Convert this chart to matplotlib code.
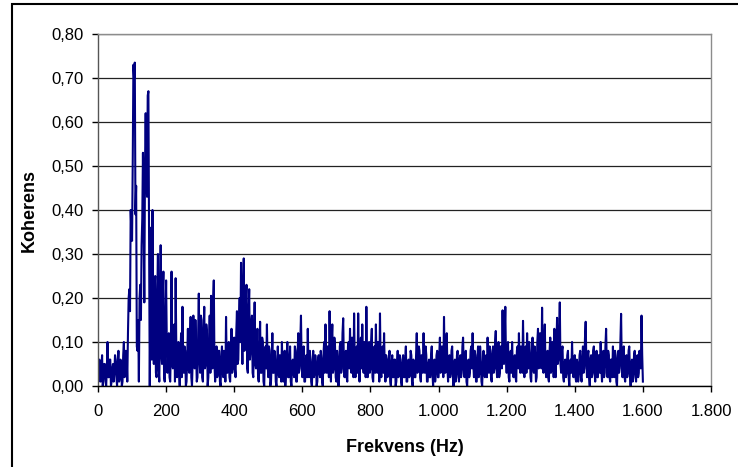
import numpy as np
import matplotlib
matplotlib.use("Agg")
import matplotlib.pyplot as plt
from matplotlib.ticker import FuncFormatter
from matplotlib.patches import Rectangle

plt.rcParams['font.family'] = ['Liberation Sans', 'DejaVu Sans']

# Coherence spectrum at 2 Hz steps (0 .. 1600 Hz)
step_hz = 2
coh = [
    # 0 - 98 Hz
    0.03, 0.01, 0.06, 0.02, 0.01, 0.04, 0.07, 0.00, 0.02, 0.05,
    0.05, 0.01, 0.00, 0.04, 0.10, 0.02, 0.02, 0.06, 0.06, 0.00,
    0.01, 0.04, 0.05, 0.01, 0.03, 0.07, 0.06, 0.02, 0.00, 0.05,
    0.08, 0.01, 0.02, 0.06, 0.05, 0.00, 0.01, 0.07, 0.10, 0.02,
    0.03, 0.08, 0.07, 0.01, 0.12, 0.20, 0.22, 0.17, 0.40, 0.35,
    # 100 - 198 Hz
    0.33, 0.51, 0.73, 0.70, 0.735, 0.39, 0.455, 0.09, 0.08, 0.15,
    0.01, 0.20, 0.23, 0.15, 0.32, 0.38, 0.53, 0.36, 0.19, 0.50,
    0.62, 0.48, 0.43, 0.66, 0.67, 0.35, 0.00, 0.20, 0.36, 0.06,
    0.40, 0.12, 0.05, 0.22, 0.25, 0.03, 0.02, 0.20, 0.30, 0.04,
    0.01, 0.16, 0.32, 0.07, 0.05, 0.20, 0.26, 0.02, 0.01, 0.14,
    # 200 - 298 Hz
    0.24, 0.10, 0.03, 0.07, 0.12, 0.02, 0.01, 0.09, 0.26, 0.05,
    0.04, 0.13, 0.14, 0.01, 0.245, 0.08, 0.02, 0.06, 0.10, 0.03,
    0.00, 0.07, 0.12, 0.02, 0.18, 0.06, 0.03, 0.09, 0.08, 0.00,
    0.01, 0.07, 0.13, 0.04, 0.03, 0.10, 0.157, 0.02, 0.00, 0.06,
    0.16, 0.05, 0.04, 0.15, 0.09, 0.01, 0.02, 0.11, 0.21, 0.06,
    # 300 - 398 Hz
    0.03, 0.16, 0.15, 0.02, 0.01, 0.12, 0.18, 0.04, 0.05, 0.14,
    0.12, 0.00, 0.02, 0.09, 0.16, 0.03, 0.205, 0.07, 0.04, 0.19,
    0.24, 0.05, 0.01, 0.06, 0.09, 0.02, 0.03, 0.08, 0.08, 0.01,
    0.00, 0.06, 0.09, 0.03, 0.02, 0.08, 0.07, 0.01, 0.157, 0.04,
    0.03, 0.09, 0.10, 0.02, 0.01, 0.07, 0.13, 0.03, 0.04, 0.10,
    # 400 - 498 Hz
    0.11, 0.04, 0.02, 0.12, 0.17, 0.05, 0.06, 0.15, 0.20, 0.10,
    0.28, 0.14, 0.05, 0.21, 0.29, 0.08, 0.12, 0.18, 0.23, 0.04,
    0.03, 0.17, 0.22, 0.06, 0.08, 0.14, 0.16, 0.03, 0.02, 0.12,
    0.19, 0.05, 0.04, 0.09, 0.13, 0.02, 0.01, 0.08, 0.146, 0.03,
    0.03, 0.11, 0.10, 0.01, 0.00, 0.07, 0.09, 0.04, 0.14, 0.05,
    # 500 - 598 Hz
    0.02, 0.09, 0.08, 0.00, 0.01, 0.06, 0.12, 0.03, 0.03, 0.08,
    0.07, 0.01, 0.00, 0.05, 0.09, 0.03, 0.02, 0.07, 0.06, 0.01,
    0.10, 0.04, 0.01, 0.06, 0.08, 0.00, 0.03, 0.07, 0.10, 0.02,
    0.02, 0.06, 0.09, 0.01, 0.00, 0.05, 0.06, 0.03, 0.02, 0.09,
    0.08, 0.01, 0.01, 0.07, 0.12, 0.03, 0.04, 0.10, 0.16, 0.05,
    # 600 - 698 Hz
    0.02, 0.07, 0.09, 0.01, 0.01, 0.06, 0.07, 0.02, 0.13, 0.04,
    0.02, 0.08, 0.06, 0.01, 0.00, 0.05, 0.08, 0.02, 0.03, 0.07,
    0.05, 0.00, 0.01, 0.06, 0.07, 0.03, 0.02, 0.08, 0.06, 0.01,
    0.00, 0.07, 0.10, 0.03, 0.14, 0.05, 0.03, 0.09, 0.08, 0.02,
    0.17, 0.06, 0.01, 0.10, 0.14, 0.03, 0.04, 0.11, 0.09, 0.02,
    # 700 - 798 Hz
    0.01, 0.08, 0.06, 0.00, 0.02, 0.09, 0.10, 0.03, 0.04, 0.12,
    0.154, 0.05, 0.02, 0.07, 0.08, 0.02, 0.01, 0.09, 0.10, 0.04,
    0.13, 0.06, 0.03, 0.11, 0.07, 0.02, 0.165, 0.05, 0.02, 0.08,
    0.09, 0.03, 0.165, 0.06, 0.01, 0.07, 0.11, 0.04, 0.14, 0.05,
    0.03, 0.10, 0.08, 0.02, 0.18, 0.06, 0.02, 0.09, 0.10, 0.03,
    # 800 - 898 Hz
    0.04, 0.10, 0.13, 0.02, 0.01, 0.07, 0.09, 0.03, 0.14, 0.05,
    0.03, 0.10, 0.07, 0.01, 0.165, 0.04, 0.02, 0.08, 0.09, 0.03,
    0.12, 0.04, 0.01, 0.07, 0.06, 0.02, 0.03, 0.06, 0.08, 0.01,
    0.00, 0.05, 0.07, 0.02, 0.02, 0.06, 0.06, 0.00, 0.01, 0.05,
    0.08, 0.02, 0.03, 0.07, 0.05, 0.01, 0.00, 0.06, 0.07, 0.02,
    # 900 - 998 Hz
    0.02, 0.06, 0.09, 0.01, 0.01, 0.05, 0.06, 0.02, 0.03, 0.08,
    0.07, 0.01, 0.00, 0.06, 0.05, 0.02, 0.02, 0.07, 0.12, 0.03,
    0.04, 0.09, 0.08, 0.02, 0.01, 0.07, 0.06, 0.03, 0.12, 0.04,
    0.03, 0.09, 0.07, 0.01, 0.01, 0.05, 0.06, 0.02, 0.02, 0.07,
    0.09, 0.03, 0.00, 0.05, 0.06, 0.01, 0.03, 0.07, 0.08, 0.02,
    # 1000 - 1098 Hz
    0.02, 0.07, 0.11, 0.03, 0.04, 0.09, 0.08, 0.02, 0.157, 0.05,
    0.03, 0.08, 0.12, 0.04, 0.01, 0.06, 0.07, 0.02, 0.03, 0.08,
    0.09, 0.02, 0.00, 0.05, 0.06, 0.01, 0.02, 0.07, 0.08, 0.03,
    0.01, 0.06, 0.07, 0.02, 0.03, 0.09, 0.11, 0.04, 0.02, 0.06,
    0.08, 0.01, 0.00, 0.05, 0.06, 0.02, 0.03, 0.08, 0.09, 0.04,
    # 1100 - 1198 Hz
    0.12, 0.05, 0.02, 0.08, 0.07, 0.01, 0.01, 0.06, 0.09, 0.02,
    0.03, 0.09, 0.06, 0.01, 0.00, 0.05, 0.08, 0.03, 0.02, 0.06,
    0.07, 0.02, 0.11, 0.05, 0.03, 0.09, 0.08, 0.02, 0.01, 0.07,
    0.09, 0.03, 0.04, 0.10, 0.125, 0.04, 0.02, 0.08, 0.10, 0.02,
    0.03, 0.09, 0.08, 0.04, 0.172, 0.07, 0.05, 0.12, 0.18, 0.06,
    # 1200 - 1298 Hz
    0.03, 0.08, 0.10, 0.02, 0.01, 0.07, 0.08, 0.03, 0.10, 0.04,
    0.02, 0.06, 0.07, 0.02, 0.01, 0.08, 0.09, 0.04, 0.12, 0.05,
    0.03, 0.09, 0.08, 0.03, 0.148, 0.06, 0.02, 0.07, 0.09, 0.03,
    0.12, 0.05, 0.04, 0.10, 0.08, 0.02, 0.01, 0.07, 0.11, 0.04,
    0.03, 0.09, 0.07, 0.01, 0.02, 0.10, 0.13, 0.04, 0.05, 0.12,
    # 1300 - 1398 Hz
    0.10, 0.04, 0.178, 0.06, 0.03, 0.09, 0.14, 0.04, 0.02, 0.07,
    0.08, 0.02, 0.01, 0.08, 0.11, 0.03, 0.04, 0.10, 0.09, 0.02,
    0.13, 0.06, 0.02, 0.09, 0.155, 0.05, 0.06, 0.12, 0.19, 0.05,
    0.03, 0.08, 0.09, 0.02, 0.01, 0.05, 0.06, 0.02, 0.03, 0.07,
    0.08, 0.02, 0.00, 0.05, 0.06, 0.03, 0.10, 0.04, 0.02, 0.06,
    # 1400 - 1498 Hz
    0.07, 0.02, 0.01, 0.06, 0.05, 0.01, 0.03, 0.07, 0.08, 0.02,
    0.01, 0.06, 0.09, 0.03, 0.04, 0.11, 0.146, 0.05, 0.02, 0.07,
    0.08, 0.02, 0.00, 0.06, 0.07, 0.02, 0.03, 0.08, 0.09, 0.03,
    0.01, 0.06, 0.08, 0.02, 0.02, 0.07, 0.06, 0.03, 0.10, 0.04,
    0.01, 0.06, 0.08, 0.02, 0.03, 0.09, 0.13, 0.05, 0.02, 0.08,
    # 1500 - 1598 Hz
    0.07, 0.02, 0.01, 0.06, 0.06, 0.02, 0.09, 0.04, 0.02, 0.08,
    0.07, 0.01, 0.00, 0.06, 0.08, 0.03, 0.04, 0.10, 0.164, 0.05,
    0.02, 0.07, 0.09, 0.02, 0.01, 0.06, 0.07, 0.02, 0.03, 0.08,
    0.09, 0.03, 0.00, 0.05, 0.06, 0.01, 0.02, 0.07, 0.08, 0.03,
    0.01, 0.06, 0.07, 0.02, 0.03, 0.08, 0.06, 0.04, 0.16, 0.07,
    # 1600 Hz
    0.01,
]
freq = np.arange(len(coh)) * step_hz

x_ticks = [0, 200, 400, 600, 800, 1000, 1200, 1400, 1600, 1800]
y_ticks = [0.0, 0.1, 0.2, 0.3, 0.4, 0.5, 0.6, 0.7, 0.8]

W, H = 738, 467
fig = plt.figure(figsize=(W / 100, H / 100), dpi=100)
ax = fig.add_axes([98 / W, 1 - 386 / H, (711 - 98) / W, (386 - 34) / H])

ax.plot(freq, coh, color='#000080', linewidth=1.5)

ax.set_xlim(0, 1800)
ax.set_ylim(0, 0.8)
ax.set_xticks(x_ticks)
ax.set_yticks(y_ticks)
ax.xaxis.set_major_formatter(FuncFormatter(lambda v, p: f"{int(v):,}".replace(",", ".")))
ax.yaxis.set_major_formatter(FuncFormatter(lambda v, p: f"{v:.2f}".replace(".", ",")))

ax.yaxis.grid(True, color='#222222', linewidth=0.9)
ax.set_axisbelow(True)

ax.tick_params(axis='both', direction='out', length=4, width=1, labelsize=12, colors='black')
ax.tick_params(axis='x', pad=9)
ax.tick_params(axis='y', pad=6)

ax.spines['top'].set_color('#8c8c8c')
ax.spines['right'].set_color('#8c8c8c')
ax.spines['left'].set_color('#555555')
ax.spines['bottom'].set_color('black')
for s in ax.spines.values():
    s.set_linewidth(1.0)

ax.set_xlabel("Frekvens (Hz)", fontsize=13, fontweight='bold')
ax.set_ylabel("Koherens", fontsize=13, fontweight='bold')
ax.xaxis.set_label_coords(0.5, -0.15)
ax.yaxis.set_label_coords(-0.098, 0.5)

# outer chart frame (cut off at right and bottom edges)
frame = Rectangle((12 / W, -0.1), 1.2, 1.1 - 4 / H, transform=fig.transFigure,
                  fill=False, edgecolor='black', linewidth=1.5, clip_on=False)
fig.patches.append(frame)

fig.savefig("out.png", dpi=100)
